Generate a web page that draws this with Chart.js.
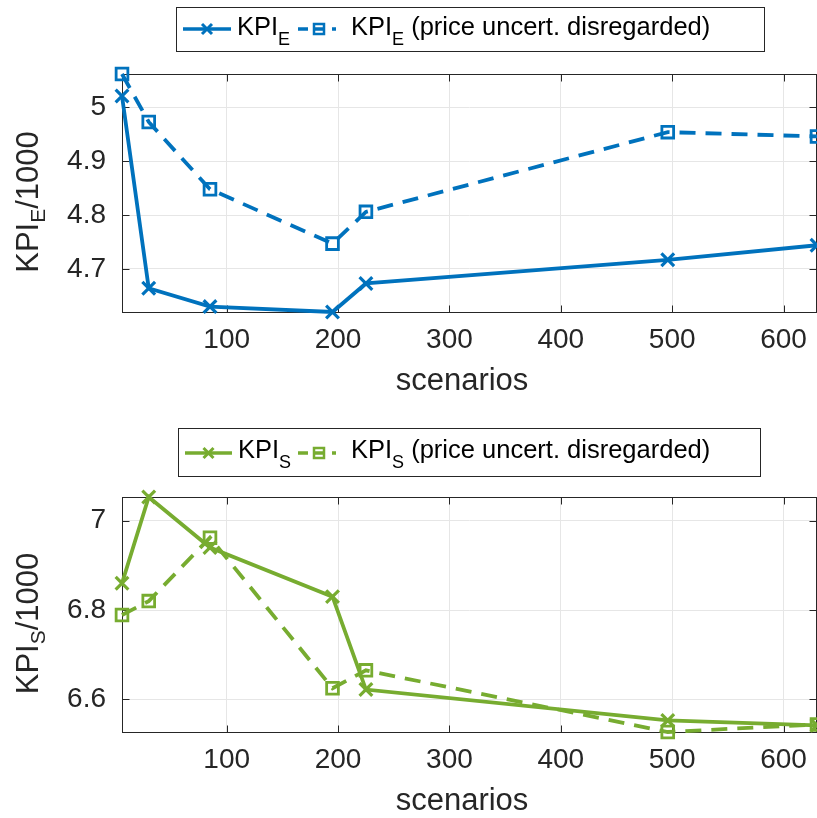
<!DOCTYPE html>
<html lang="en">
<head>
<meta charset="UTF-8">
<title>KPI vs scenarios</title>
<script src="https://cdn.jsdelivr.net/npm/chart.js@4.4.1/dist/chart.umd.min.js"></script>
<style>
  body { margin: 0; background: #fff; }
  #wrap { position: relative; width: 817px; height: 818px; }
  canvas { position: absolute; left: 0; }
</style>
</head>
<body>
<div id="wrap">
  <canvas id="chartE" width="817" height="405" style="top:0"></canvas>
  <canvas id="chartS" width="817" height="408" style="top:410px"></canvas>
</div>
<script>
// data (KPI / 1000)
const scenarios = [6, 30, 85, 195, 225, 496, 630];
const kpiE = [5.021, 4.664, 4.630, 4.620, 4.673, 4.717, 4.744];
const kpiENoPrice = [5.062, 4.973, 4.848, 4.747, 4.806, 4.954, 4.946];
const kpiS = [6.860, 7.053, 6.940, 6.830, 6.622, 6.553, 6.542];
const kpiSNoPrice = [6.789, 6.820, 6.962, 6.625, 6.665, 6.527, 6.544];

const xTicks = [100, 200, 300, 400, 500, 600];
const yTicksE = [4.7, 4.8, 4.9, 5];
const yTicksS = [6.6, 6.8, 7];

const FONT = '"Liberation Sans", Arial, Helvetica, sans-serif';
const TXT = '#262626';
const BLUE = '#0072BD';
const GREEN = '#77AC30';

function drawCross(ctx, x, y, r) {
  ctx.beginPath();
  ctx.moveTo(x - r, y - r); ctx.lineTo(x + r, y + r);
  ctx.moveTo(x - r, y + r); ctx.lineTo(x + r, y - r);
  ctx.stroke();
}

function drawLegend(ctx, o) {
  ctx.save();
  ctx.fillStyle = '#fff';
  ctx.fillRect(o.box[0], o.box[1], o.box[2], o.box[3]);
  ctx.strokeStyle = TXT;
  ctx.lineWidth = 1;
  ctx.strokeRect(o.box[0] + 0.5, o.box[1] + 0.5, o.box[2], o.box[3]);

  // solid sample
  ctx.strokeStyle = o.color;
  ctx.lineWidth = 3.5;
  ctx.beginPath(); ctx.moveTo(o.x1[0], o.lineY); ctx.lineTo(o.x1[1], o.lineY); ctx.stroke();
  ctx.lineWidth = 3;
  drawCross(ctx, (o.x1[0] + o.x1[1]) / 2, o.lineY, 5);

  // dashed sample
  ctx.lineWidth = 3.5;
  ctx.setLineDash([10, 7]);
  ctx.beginPath(); ctx.moveTo(o.x2[0], o.lineY); ctx.lineTo(o.x2[1], o.lineY); ctx.stroke();
  ctx.setLineDash([]);
  ctx.lineWidth = 2.5;
  const sx = (o.x2[0] + o.x2[1]) / 2 + 2;
  ctx.strokeRect(sx - 5, o.lineY - 5, 10, 10);

  // labels
  ctx.fillStyle = '#000';
  ctx.textBaseline = 'alphabetic';
  ctx.textAlign = 'left';
  const big = '25.5px ' + FONT, small = '18px ' + FONT;
  function label(x, rest) {
    ctx.font = big; ctx.fillText('KPI', x, o.base);
    x += ctx.measureText('KPI').width;
    ctx.font = small; ctx.fillText(o.sub, x, o.base + 10);
    x += ctx.measureText(o.sub).width;
    if (rest) { ctx.font = big; ctx.fillText(rest, x, o.base); }
  }
  label(o.t1);
  label(o.t2, ' (price uncert. disregarded)');
  ctx.restore();
}

function drawYTitle(ctx, sub, cx, cy) {
  ctx.save();
  ctx.translate(cx, cy);
  ctx.rotate(-Math.PI / 2);
  const big = '31px ' + FONT, small = '21px ' + FONT;
  ctx.font = big;
  const w1 = ctx.measureText('KPI').width, w3 = ctx.measureText('/1000').width;
  ctx.font = small;
  const w2 = ctx.measureText(sub).width;
  let x = -(w1 + w2 + w3) / 2;
  ctx.fillStyle = TXT;
  ctx.textBaseline = 'alphabetic';
  ctx.textAlign = 'left';
  ctx.font = big; ctx.fillText('KPI', x, 0); x += w1;
  ctx.font = small; ctx.fillText(sub, x, 7); x += w2;
  ctx.font = big; ctx.fillText('/1000', x, 0);
  ctx.restore();
}

function makeChart(id, solid, dashed, color, yTicks, sub, lay, legend) {
  const canvas = document.getElementById(id);
  const H = canvas.height;
  const frame = {
    id: 'frame',
    beforeDatasetsDraw(chart) {
      const { ctx, chartArea: a, scales } = chart;
      ctx.save();
      ctx.strokeStyle = TXT;
      ctx.lineWidth = 1;
      const l = Math.floor(a.left) + 0.5, r = Math.ceil(a.right) - 0.5;
      const t = Math.floor(a.top) + 0.5, b = Math.floor(a.bottom) + 0.5;
      ctx.strokeRect(l, t, r - l, b - t);
      ctx.beginPath();
      xTicks.forEach(v => {
        const px = Math.round(scales.x.getPixelForValue(v)) + 0.5;
        ctx.moveTo(px, b); ctx.lineTo(px, b - 7);
        ctx.moveTo(px, t); ctx.lineTo(px, t + 7);
      });
      yTicks.forEach(v => {
        const py = Math.round(scales.y.getPixelForValue(v)) + 0.5;
        ctx.moveTo(l, py); ctx.lineTo(l + 7, py);
        ctx.moveTo(r, py); ctx.lineTo(r - 7, py);
      });
      ctx.stroke();
      ctx.restore();
    },
    afterDraw(chart) {
      const { ctx, chartArea: a } = chart;
      drawLegend(ctx, legend);
      drawYTitle(ctx, sub, 38, (a.top + a.bottom) / 2 + 9);
      ctx.save();
      ctx.fillStyle = TXT;
      ctx.font = '31px ' + FONT;
      ctx.textAlign = 'center';
      ctx.textBaseline = 'alphabetic';
      ctx.fillText('scenarios', 462, a.bottom + 78);
      ctx.restore();
    }
  };

  const pts = arr => scenarios.map((x, i) => ({ x: x, y: arr[i] }));
  const all = solid.concat(dashed);

  return new Chart(canvas, {
    type: 'line',
    data: {
      datasets: [{
        data: pts(solid),
        borderColor: color,
        borderWidth: 3.8,
        pointStyle: 'crossRot',
        pointRadius: 9,
        pointBorderWidth: 3.2,
        pointBorderColor: color,
        pointBackgroundColor: color,
        tension: 0,
        clip: false,
        order: 1
      }, {
        data: pts(dashed),
        borderColor: color,
        borderWidth: 3.8,
        borderDash: [16, 10],
        pointStyle: 'rect',
        pointRadius: 8.3,
        pointBorderWidth: 2.8,
        pointBorderColor: color,
        pointBackgroundColor: 'rgba(0,0,0,0)',
        tension: 0,
        clip: false,
        order: 0
      }]
    },
    options: {
      responsive: false,
      animation: false,
      devicePixelRatio: 1,
      layout: { autoPadding: false, padding: { top: lay.top, left: 0, right: 0, bottom: 0 } },
      plugins: { legend: { display: false }, tooltip: { enabled: false } },
      scales: {
        x: {
          type: 'linear',
          min: scenarios[0],
          max: scenarios[scenarios.length - 1],
          afterBuildTicks: s => { s.ticks = xTicks.map(v => ({ value: v })); },
          afterFit: s => { s.height = H - lay.bottom; s.paddingLeft = 0; s.paddingRight = 0; },
          ticks: { font: { size: 28, family: FONT }, color: TXT, padding: 11, maxRotation: 0, autoSkip: false,
                   callback: v => String(v) },
          grid: { color: '#e6e6e6', lineWidth: 1, drawTicks: false },
          border: { display: false }
        },
        y: {
          type: 'linear',
          min: Math.min.apply(null, all),
          max: Math.max.apply(null, all),
          afterBuildTicks: s => { s.ticks = yTicks.map(v => ({ value: v })); },
          afterFit: s => { s.width = 122; s.paddingTop = 0; s.paddingBottom = 0; },
          ticks: { font: { size: 28, family: FONT }, color: TXT, padding: 16, autoSkip: false,
                   callback: v => String(+v.toFixed(2)) },
          grid: { color: '#e6e6e6', lineWidth: 1, drawTicks: false },
          border: { display: false }
        }
      }
    },
    plugins: [frame]
  });
}

makeChart('chartE', kpiE, kpiENoPrice, BLUE, yTicksE, 'E', { top: 74, bottom: 312 }, {
  box: [176, 7, 588, 44], color: BLUE, sub: 'E',
  lineY: 29, base: 35, x1: [183, 231], x2: [298, 336], t1: 237, t2: 351
});

makeChart('chartS', kpiS, kpiSNoPrice, GREEN, yTicksS, 'S', { top: 87, bottom: 322 }, {
  box: [178, 18, 582, 48], color: GREEN, sub: 'S',
  lineY: 43, base: 48, x1: [185, 232], x2: [298, 336], t1: 238, t2: 351
});
</script>
</body>
</html>
